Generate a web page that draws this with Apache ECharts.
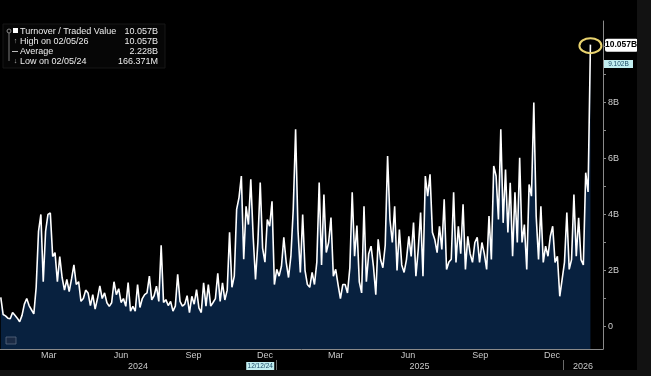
<!DOCTYPE html>
<html>
<head>
<meta charset="utf-8">
<script src="https://cdn.jsdelivr.net/npm/echarts@6/dist/echarts.min.js"></script>
<style>
html,body{margin:0;padding:0;background:#121212;}
#c{width:651px;height:376px;}
</style>
</head>
<body>
<div id="c"></div>
<script>
// ---- data (values in billions, one reading every 3 calendar days) ----
const startDate = Date.UTC(2024, 0, 17);
const stepDays = 3;
const values = [
1.04,0.43,0.38,0.3,0.28,0.5,0.4,0.3,0.17,0.4,
0.8,1.0,0.75,0.6,0.45,1.4,3.4,4.0,1.6,3.4,
4.0,4.05,2.5,2.64,1.6,2.5,1.75,1.3,1.68,1.25,
1.7,2.2,1.5,1.6,0.9,1.0,1.3,1.2,0.75,1.14,
0.62,1.0,1.45,1.0,1.2,0.85,0.72,0.85,1.6,1.14,
1.35,0.86,1.0,0.72,1.57,0.55,0.72,0.55,1.5,0.68,
1.0,1.14,1.2,1.8,0.95,
1.1,1.44,0.9,2.9,0.86,0.96,0.75,0.9,0.55,0.73,
1.86,0.9,0.73,0.8,1.1,0.5,1.08,0.8,1.32,0.67,
0.5,1.56,0.73,1.5,0.73,0.86,1.0,1.9,0.9,1.56,
0.95,1.3,3.36,1.4,1.8,4.18,4.6,5.37,2.4,4.29,
3.64,5.25,3.22,1.68,3.0,5.14,2.8,2.3,3.82,3.58,
4.47,1.5,2.04,1.8,2.15,3.18,2.3,1.75,2.51,4.18,
7.04,3.46,1.93,4.0,
2.0,1.5,1.4,1.93,1.5,2.3,5.14,2.2,4.71,2.64,
3.0,3.89,1.8,2.04,1.5,1.0,1.5,1.5,1.2,2.1,
4.79,2.51,3.6,1.6,1.2,4.29,1.6,2.6,2.87,2.15,
1.14,3.11,2.4,2.1,2.9,6.08,3.82,3.0,4.29,2.0,
3.46,2.2,1.93,2.39,3.22,2.5,3.71,1.8,2.75,4.07,
1.8,5.37,4.65,5.43,3.36,3.11,2.64,3.58,2.75,4.54,
2.04,2.3,2.4,
4.79,2.29,3.58,2.6,4.36,2.04,3.22,2.6,2.29,3.0,
3.18,2.29,3.0,2.6,2.04,3.94,2.39,5.73,5.37,3.82,
7.04,3.7,5.6,3.36,5.13,2.51,4.79,3.0,6.02,3.0,
3.64,2.04,5.07,4.65,7.99,3.94,2.39,4.29,2.29,2.87,
2.51,3.22,3.58,2.29,2.51,1.08,1.68,2.29,4.07,2.04,
2.39,4.71,2.51,3.88,2.39,2.2,5.49,4.8,10.057
];
const legendLabels = ['Turnover / Traded Value', 'High on 02/05/26', 'Average', 'Low on 02/05/24'];
const legendValues = ['10.057B', '10.057B', '2.228B', '166.371M'];
const yTickLabels = [0, 2, 4, 6, 8];
const monthLabels = ['Mar', 'Jun', 'Sep', 'Dec'];
const labelMonths = [2, 5, 8, 11];
const years = [2024, 2025, 2026];
const lastValueTag = '10.057B';
const secondTag = '9.102B';
const cursorDate = '12/12/24';

const DAY = 86400000;
const dates = values.map((v, i) => startDate + i * stepDays * DAY);
const seriesData = values.map((v, i) => [dates[i], v]);
const axisMin = Date.UTC(2024, 0, 16);
const axisMax = Date.UTC(2026, 1, 21);

const monthStarts = [];
const monthLabelPos = [];
for (let y = 2024; y <= 2026; y++) {
  for (let m = 0; m < 12; m++) {
    const t = Date.UTC(y, m, 1);
    if (t > axisMin && t < axisMax) monthStarts.push(t);
    if (labelMonths.indexOf(m) >= 0) {
      const lt = Date.UTC(y, m, 18);
      if (lt > axisMin && lt < axisMax) monthLabelPos.push(lt);
    }
  }
}
const yearBounds = years.slice(1).map(y => Date.UTC(y, 0, 1));
const yearLabelPos = years.map(y => {
  const a = Math.max(Date.UTC(y, 0, 1), axisMin);
  const b = Math.min(Date.UTC(y + 1, 0, 1), axisMax);
  return (a + b) / 2;
});

const FONT = 'Liberation Sans, Arial, sans-serif';
const chart = echarts.init(document.getElementById('c'), null, {renderer: 'canvas'});
chart.setOption({
  backgroundColor: '#000',
  animation: false,
  grid: {left: 0, right: 48, top: 21, bottom: 27},
  xAxis: [{
    type: 'value', min: axisMin, max: axisMax, scale: true,
    axisLine: {show: true, onZero: false, lineStyle: {color: '#8a8a8a', width: 1}},
    axisTick: {show: true, inside: true, length: 2, customValues: monthStarts, lineStyle: {color: '#8a8a8a'}},
    axisLabel: {
      customValues: monthLabelPos, margin: 2, color: '#c8c8c8', fontSize: 9, fontFamily: FONT,
      formatter: v => monthLabels[labelMonths.indexOf(new Date(v).getUTCMonth())]
    },
    splitLine: {show: false}
  }, {
    type: 'value', min: axisMin, max: axisMax, scale: true, position: 'bottom', offset: 11,
    axisLine: {show: false, onZero: false},
    axisTick: {show: true, length: 10, customValues: yearBounds, lineStyle: {color: '#6a6a6a'}},
    axisLabel: {
      customValues: yearLabelPos, margin: 2, color: '#c8c8c8', fontSize: 9, fontFamily: FONT,
      formatter: v => String(new Date(v).getUTCFullYear())
    },
    splitLine: {show: false}
  }],
  yAxis: {
    type: 'value', position: 'right', min: -0.8, max: 10.9,
    axisLine: {show: true, lineStyle: {color: '#8a8a8a', width: 1}},
    axisTick: {show: true, length: 3, customValues: [0,1,2,3,4,5,6,7,8,9,10], lineStyle: {color: '#8a8a8a'}},
    axisLabel: {
      customValues: yTickLabels, margin: 5, color: '#cfcfcf', fontSize: 9, fontFamily: FONT,
      formatter: v => v === 0 ? '0' : v + 'B'
    },
    splitLine: {show: false}
  },
  series: [{
    type: 'line', data: seriesData, showSymbol: false, symbol: 'none',
    lineStyle: {color: '#ffffff', width: 1.6},
    areaStyle: {color: '#08213f', opacity: 1, origin: 'start'},
    z: 2
  }]
});

const last = seriesData[seriesData.length - 1];
const lp = chart.convertToPixel({xAxisIndex: 0, yAxisIndex: 0}, last);
const cd = chart.convertToPixel({xAxisIndex: 0}, Date.UTC(2024, 11, 12));
const legendChildren = [
  {type: 'rect', shape: {x: 3, y: 24, width: 162, height: 44}, style: {fill: '#060606', stroke: '#161616'}},
  {type: 'line', shape: {x1: 9, y1: 33, x2: 9, y2: 61}, style: {stroke: '#7a7a7a', lineWidth: 1}},
  {type: 'circle', shape: {cx: 9, cy: 31, r: 2}, style: {fill: 'none', stroke: '#8a8a8a', lineWidth: 1}},
  {type: 'rect', shape: {x: 13, y: 28, width: 5, height: 5}, style: {fill: '#ffffff'}},
  {type: 'text', x: 15.5, y: 41.5, style: {text: '\u2191', fill: '#bbbbbb', fontSize: 7, align: 'center', verticalAlign: 'middle', fontFamily: FONT}},
  {type: 'line', shape: {x1: 12, y1: 51.5, x2: 18, y2: 51.5}, style: {stroke: '#bbbbbb', lineWidth: 1}},
  {type: 'text', x: 15.5, y: 61.5, style: {text: '\u2193', fill: '#bbbbbb', fontSize: 7, align: 'center', verticalAlign: 'middle', fontFamily: FONT}}
];
legendLabels.forEach((t, i) => {
  legendChildren.push({type: 'text', x: 20, y: 31.5 + i * 10, style: {text: t, fill: '#ececec', fontSize: 9, fontFamily: FONT, verticalAlign: 'middle'}});
  legendChildren.push({type: 'text', x: 158, y: 31.5 + i * 10, style: {text: legendValues[i], fill: '#ececec', fontSize: 9, fontFamily: FONT, align: 'right', verticalAlign: 'middle'}});
});

chart.setOption({
  graphic: [
    {type: 'group', children: legendChildren, z: 10},
    {type: 'ellipse', shape: {cx: lp[0], cy: lp[1] + 1, rx: 11, ry: 7.5}, style: {fill: 'none', stroke: '#e9d36f', lineWidth: 2}, z: 10},
    {type: 'rect', shape: {x: 605, y: lp[1] - 6, width: 33, height: 13, r: 2}, style: {fill: '#ffffff'}, z: 10},
    {type: 'text', x: 621, y: lp[1] + 0.5, style: {text: lastValueTag, fill: '#000', fontSize: 8.5, fontWeight: 'bold', fontFamily: FONT, align: 'center', verticalAlign: 'middle'}, z: 11},
    {type: 'rect', shape: {x: 604, y: 60, width: 29, height: 8}, style: {fill: '#c2eef0'}, z: 10},
    {type: 'text', x: 618.5, y: 64.3, style: {text: secondTag, fill: '#1b4a66', fontSize: 6.5, fontFamily: FONT, align: 'center', verticalAlign: 'middle'}, z: 11},
    {type: 'rect', shape: {x: cd - 14, y: 362, width: 28, height: 8}, style: {fill: '#c2eef0'}, z: 10},
    {type: 'text', x: cd, y: 366.3, style: {text: cursorDate, fill: '#1b4a66', fontSize: 6.5, fontFamily: FONT, align: 'center', verticalAlign: 'middle'}, z: 11},
    {type: 'rect', shape: {x: 6, y: 337, width: 10, height: 7}, style: {fill: '#1a2a44', stroke: '#5a6a80', lineWidth: 0.8}, z: 10},
    {type: 'rect', shape: {x: 637, y: 0, width: 14, height: 376}, style: {fill: '#121212'}, z: 20},
    {type: 'rect', shape: {x: 0, y: 370, width: 651, height: 6}, style: {fill: '#121212'}, z: 20}
  ]
});
</script>
</body>
</html>
